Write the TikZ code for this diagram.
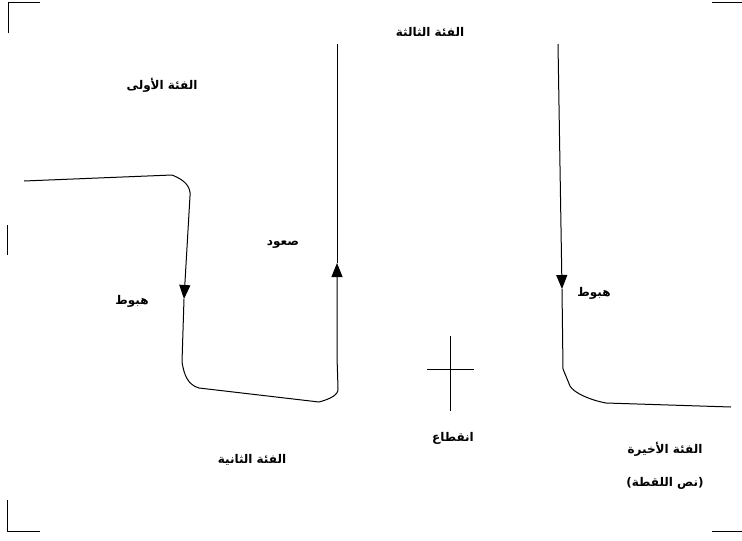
\documentclass[tikz,border=0pt]{standalone}
\usepackage{fontspec}
\usepackage{tikz}
\usetikzlibrary{positioning,arrows.meta}
\TeXXeTstate=1
\newfontfamily\arabicfont[Script=Arabic]{DejaVu Sans}

\begin{document}
\begin{tikzpicture}[x=1pt,y=-1pt,
        track/.style={line width=1pt, line join=round},
        trackarr/.style={track, -{Triangle[width=11pt,length=14pt]}},
        arabtxt/.style={font=\arabicfont\bfseries\fontsize{12}{14}\selectfont, inner sep=1pt}]
        \useasboundingbox (0,0) rectangle (742,541);
        \draw[track] (8,33) -- (8,2) -- (40,2);
        \draw[track] (712,2) -- (742,2);
        \draw[track] (7,225) -- (7,255);
        \draw[track] (7,500) -- (7,531) -- (40,531);
        \draw[track] (712,531) -- (742,531);
        \coordinate (s1) at (24,181);
        \coordinate (k1) at (172,175);
        \coordinate (k2) at (190,196);
        \coordinate (d1) at (184,299);
        \coordinate (k3) at (182,362);
        \coordinate (k4) at (199,388);
        \coordinate (k5) at (319,402);
        \coordinate (k6) at (338,388);
        \coordinate (k7) at (337,357);
        \coordinate (u1) at (337,263);
        \coordinate (t1) at (337,44);
        \draw[trackarr] (s1) -- (k1) .. controls (185,180) and (191,187) .. (k2) -- (d1);
        \draw[trackarr] (d1) -- (k3) .. controls (184,375) and (188,385) .. (k4) -- (k5) .. controls (330,399) and (339,395) .. (k6) -- (k7) -- (u1);
        \draw[track] (u1) -- (t1);
        \coordinate (t2) at (558,44);
        \coordinate (d2) at (562,289);
        \coordinate (k8) at (563,369);
        \coordinate (k9) at (580,395);
        \coordinate (k10) at (606,403);
        \coordinate (e2) at (731,407);
        \draw[trackarr] (t2) -- (d2);
        \draw[track] (d2) -- (k8) -- (570,386) .. controls (574,393) and (590,400) .. (k10) -- (e2);
        \draw[track] (450,336) -- (450,411);
        \draw[track] (427,369) -- (474,369);
        \node[arabtxt] (cat3) at (430,32) {\beginR الفئة الثالثة\endR};
        \node[arabtxt] (cat1) at (162,85) {\beginR الفئة الأولى\endR};
        \node[arabtxt] (up) at (283,244) {\beginR صعود\endR};
        \node[arabtxt] (down1) at (132,301) {\beginR هبوط\endR};
        \node[arabtxt] (down2) at (594,293) {\beginR هبوط\endR};
        \node[arabtxt] (cut) at (453,438) {\beginR انقطاع\endR};
        \node[arabtxt] (cat2) at (252,460) {\beginR الفئة الثانية\endR};
        \node[arabtxt] (catlast) at (665,449) {\beginR الفئة الأخيرة\endR};
        \node[arabtxt] (script) at (665,483) {\beginR (نص اللقطة)\endR};
\end{tikzpicture}
\end{document}
